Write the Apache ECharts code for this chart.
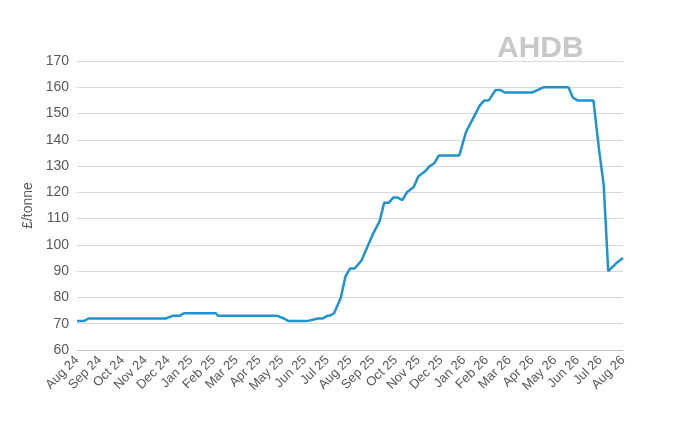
<!DOCTYPE html><html><head><meta charset="utf-8"><script src="https://cdn.jsdelivr.net/npm/echarts@6/dist/echarts.min.js"></script></head><body style="margin:0"><div id="c" style="width:679px;height:438px"></div><script>
const monthLabels=['Aug 24','Sep 24','Oct 24','Nov 24','Dec 24','Jan 25','Feb 25','Mar 25','Apr 25','May 25','Jun 25','Jul 25','Aug 25','Sep 25','Oct 25','Nov 25','Dec 25','Jan 26','Feb 26','Mar 26','Apr 26','May 26','Jun 26','Jul 26','Aug 26'];
const xMonths=[0,0.3,0.5,1,2,3,3.9,4.2,4.5,4.7,5,6,6.1,6.2,7,8,8.8,9.1,9.3,9.8,10.1,10.6,10.8,11.0,11.1,11.3,11.6,11.8,12.0,12.2,12.5,12.7,13.0,13.3,13.5,13.7,13.9,14.1,14.3,14.5,14.8,15.0,15.3,15.5,15.7,15.9,16.3,16.8,17.1,17.4,17.7,17.9,18.1,18.4,18.6,18.8,19.3,19.8,20.0,20.5,20.7,21.6,21.8,22.0,22.7,22.95,23.15,23.35,23.7,24.0];
const price=[71,71,72,72,72,72,72,73,73,74,74,74,74,73,73,73,73,72,71,71,71,72,72,73,73,74,80,88,91,91,94,98,104,109,116,116,118,118,117,120,122,126,128,130,131,134,134,134,143,148,153,155,155,159,159,158,158,158,158,160,160,160,156,155,155,136,123,90,93,95];
const data=xMonths.map((x,i)=>[x,price[i]]);
const ch=echarts.init(document.getElementById('c'));
ch.setOption({
 graphic:[{type:'text',left:497,top:34,style:{text:'AHDB',font:'bold 30px Arial',fill:'#c8c8c8'}}],
 grid:{left:77,right:56,top:61,bottom:88},
 xAxis:{type:'value',min:0,max:24,interval:1,splitLine:{show:false},
  axisLine:{lineStyle:{color:'#bfbfbf'}},axisTick:{show:false},
  axisLabel:{rotate:45,color:'#595959',fontSize:13,fontFamily:'Arial',formatter:v=>monthLabels[Math.round(v)]||''}},
 yAxis:{type:'value',min:60,max:170,interval:10,name:'£/tonne',nameLocation:'middle',nameGap:40,
  nameTextStyle:{color:'#595959',fontSize:14,fontFamily:'Arial'},
  axisLine:{show:false},axisTick:{show:false},
  axisLabel:{color:'#595959',fontSize:14,fontFamily:'Arial'},splitLine:{lineStyle:{color:'#d9d9d9'}}},
 series:[{type:'line',data:data,showSymbol:false,lineStyle:{color:'#1f93d0',width:2.5},itemStyle:{color:'#1f93d0'}}],
 animation:false
});
</script></body></html>
